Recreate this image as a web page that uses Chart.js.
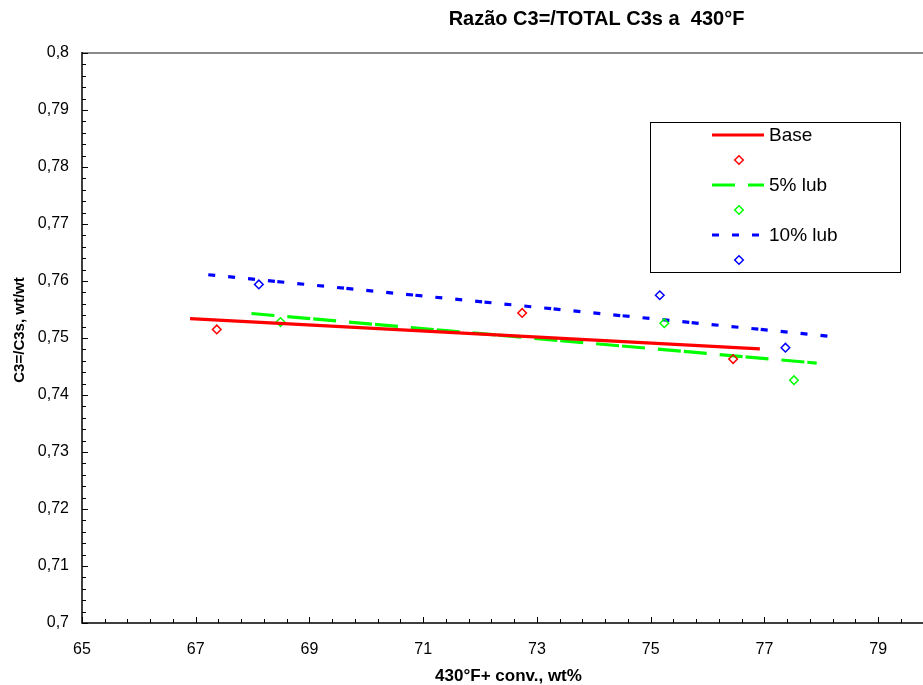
<!DOCTYPE html>
<html>
<head>
<meta charset="utf-8">
<script src="https://cdn.jsdelivr.net/npm/chart.js@4.4.1/dist/chart.umd.min.js"></script>
<style>
html,body{margin:0;padding:0;overflow:hidden;background:#fff;width:923px;height:685px}
#wrap{position:absolute;left:0;top:0;width:960px;height:685px}
</style>
</head>
<body>
<div id="wrap"><canvas id="c"></canvas></div>
<script>
// ---- data ----
const chartTitle = 'Razão C3=/TOTAL C3s a  430°F';
const xTitle = '430°F+ conv., wt%';
const yTitle = 'C3=/C3s, wt/wt';
const seriesNames = ['Base', '5% lub', '10% lub'];

const baseX  = [67.37, 72.74, 76.45];
const baseY  = [0.7515, 0.7544, 0.7463];
const lub5X  = [68.49, 75.24, 77.52];
const lub5Y  = [0.7528, 0.7526, 0.7426];
const lub10X = [68.11, 75.16, 77.37];
const lub10Y = [0.7594, 0.7575, 0.7483];

const baseTrendX  = [66.90, 76.92];
const baseTrendY  = [0.7534, 0.7481];
const lub5TrendX  = [67.98, 77.92];
const lub5TrendY  = [0.7543, 0.7456];
const lub10TrendX = [67.22, 78.15];
const lub10TrendY = [0.7611, 0.7503];

const xTicksMajor = [65, 67, 69, 71, 73, 75, 77, 79];
const xMin = 65, xMax = 80, xStep = 2, xMinorStep = 0.4;
const yMin = 0.7, yMax = 0.8, yStep = 0.01, yMinorStep = 0.002;

// ---- styles ----
const FONT = '"Liberation Sans", Arial, Helvetica, sans-serif';
const RED = '#FF0000', GREEN = '#00FF00', BLUE = '#0000FF';
const dashGreen = [23, 13, 23, 3];
const dashBlue = [7, 13, 7, 13, 7, 13, 7, 2.4];

function pts(xs, ys) { return xs.map((x, i) => ({x: x, y: ys[i]})); }

function trendDs(label, xs, ys, color, dash) {
  return {type: 'line', label: label, data: pts(xs, ys), borderColor: color, backgroundColor: color,
    borderWidth: 3.2, borderDash: dash, pointRadius: 0, pointHoverRadius: 0, fill: false, tension: 0, borderCapStyle: 'butt'};
}
function pointDs(label, xs, ys, color) {
  return {type: 'scatter', label: label, data: pts(xs, ys), borderColor: color, backgroundColor: 'rgba(0,0,0,0)',
    pointStyle: 'rectRot', pointRadius: 4.3, pointBorderWidth: 1.5, showLine: false};
}

const datasets = [
  trendDs(seriesNames[0], baseTrendX, baseTrendY, RED, []),
  pointDs('', baseX, baseY, RED),
  trendDs(seriesNames[1], lub5TrendX, lub5TrendY, GREEN, dashGreen),
  pointDs('', lub5X, lub5Y, GREEN),
  trendDs(seriesNames[2], lub10TrendX, lub10TrendY, BLUE, dashBlue),
  pointDs('', lub10X, lub10Y, BLUE)
];

function near(v, step, base) { const k = (v - base) / step; return Math.abs(k - Math.round(k)) < 1e-6; }

const axesPlugin = {
  id: 'excelAxes',
  beforeDatasetsDraw(chart) {
    const {ctx, chartArea: a, scales: {x, y}} = chart;
    ctx.save();
    // top border (gray)
    ctx.strokeStyle = '#8a8a8a'; ctx.lineWidth = 2;
    ctx.beginPath(); ctx.moveTo(a.left, a.top); ctx.lineTo(a.right, a.top); ctx.stroke();
    // axis lines
    ctx.strokeStyle = '#000'; ctx.lineWidth = 1.5;
    ctx.beginPath(); ctx.moveTo(a.left, a.top - 1); ctx.lineTo(a.left, a.bottom); ctx.lineTo(a.right, a.bottom); ctx.stroke();
    ctx.lineWidth = 1;
    // x ticks (inward)
    const nx = Math.round((xMax - xMin) / xMinorStep);
    for (let i = 0; i <= nx; i++) {
      const v = xMin + i * xMinorStep;
      const px = Math.round(x.getPixelForValue(v)) + 0.5;
      const len = near(v, xStep, xMin) ? 6 : 4;
      ctx.beginPath(); ctx.moveTo(px, a.bottom); ctx.lineTo(px, a.bottom - len); ctx.stroke();
    }
    const ny = Math.round((yMax - yMin) / yMinorStep);
    for (let i = 0; i <= ny; i++) {
      const v = yMin + i * yMinorStep;
      const py = Math.round(y.getPixelForValue(v)) + 0.5;
      const len = near(v, yStep, yMin) ? 6 : 4;
      ctx.beginPath(); ctx.moveTo(a.left, py); ctx.lineTo(a.left + len, py); ctx.stroke();
    }
    ctx.restore();
  },
  afterDraw(chart) {
    const ctx = chart.ctx;
    ctx.save();
    ctx.fillStyle = '#000';
    // chart title
    ctx.font = 'bold 20px ' + FONT;
    ctx.textAlign = 'center'; ctx.textBaseline = 'middle';
    ctx.fillText(chartTitle, 596.5, 19);
    // y axis title (rotated)
    ctx.save();
    ctx.translate(19.5, 330);
    ctx.rotate(-Math.PI / 2);
    ctx.font = 'bold 15px ' + FONT;
    ctx.fillText(yTitle, 0, 0);
    ctx.restore();
    // legend
    const L = {left: 650.5, top: 122.5, w: 250, h: 150, x1: 712, x2: 764, mx: 739, tx: 769, y0: 135, dy: 25};
    ctx.strokeStyle = '#000'; ctx.lineWidth = 1;
    ctx.strokeRect(L.left, L.top, L.w, L.h);
    ctx.font = '19px ' + FONT;
    ctx.textAlign = 'left'; ctx.textBaseline = 'middle';
    chart.data.datasets.forEach((ds, i) => {
      const yy = L.y0 + i * L.dy;
      if (ds.type === 'line') {
        ctx.save();
        ctx.strokeStyle = ds.borderColor; ctx.lineWidth = ds.borderWidth; ctx.lineCap = 'butt';
        ctx.setLineDash(ds.borderDash || []);
        ctx.beginPath(); ctx.moveTo(L.x1, yy); ctx.lineTo(L.x2, yy); ctx.stroke();
        ctx.restore();
        ctx.fillStyle = '#000';
        ctx.fillText(ds.label, L.tx, yy + 1);
      } else {
        ctx.save();
        ctx.strokeStyle = ds.borderColor; ctx.lineWidth = ds.pointBorderWidth;
        const r = ds.pointRadius;
        ctx.beginPath();
        ctx.moveTo(L.mx, yy - r); ctx.lineTo(L.mx + r, yy); ctx.lineTo(L.mx, yy + r); ctx.lineTo(L.mx - r, yy);
        ctx.closePath(); ctx.stroke();
        ctx.restore();
      }
    });
    ctx.restore();
  }
};

new Chart(document.getElementById('c'), {
  type: 'scatter',
  data: {datasets: datasets},
  plugins: [axesPlugin],
  options: {
    responsive: true,
    maintainAspectRatio: false,
    animation: false,
    events: [],
    layout: {padding: {top: 53, right: 25, left: 0, bottom: 0}},
    plugins: {legend: {display: false}, title: {display: false}, tooltip: {enabled: false}},
    scales: {
      x: {
        type: 'linear', min: xMin, max: xMax,
        grid: {display: false, drawTicks: false},
        border: {display: false},
        afterBuildTicks(s) { s.ticks = xTicksMajor.map(v => ({value: v})); },
        ticks: {
          padding: 17, color: '#000', maxRotation: 0, autoSkip: false,
          font: {family: FONT, size: 16},
          callback: (v) => String(Math.round(v))
        },
        title: {display: true, text: xTitle, color: '#000', font: {family: FONT, size: 17, weight: 'bold', lineHeight: 1}, padding: {top: 0, bottom: 0}},
        afterFit(s) { s.height = 62; }
      },
      y: {
        type: 'linear', min: yMin, max: yMax,
        grid: {display: false, drawTicks: false},
        border: {display: false},
        ticks: {
          stepSize: yStep, padding: 13, color: '#000', autoSkip: false,
          font: {family: FONT, size: 16},
          callback: (v) => (Math.round(v * 100) / 100).toString().replace('.', ',')
        },
        afterFit(s) { s.width = 82; }
      }
    }
  }
});
</script>
</body>
</html>
